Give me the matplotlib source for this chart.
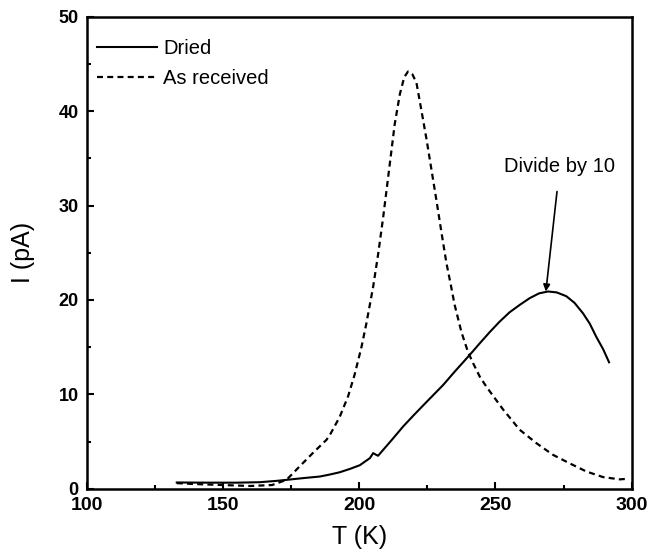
import numpy as np
import matplotlib
matplotlib.use("Agg")
import matplotlib.pyplot as plt
from matplotlib.ticker import MultipleLocator

plt.rcParams['font.family'] = ['Liberation Sans', 'DejaVu Sans']

# As received (dashed)
t_recv = [133, 140, 150, 160, 168, 173.3, 178.2, 183, 185.5, 188, 189.2, 192.8, 195.9,
          198.3, 200.8, 202.6, 205.1, 206.9, 208.7, 210, 211.2, 213, 214.9, 216.5,
          217.9, 219.5, 221, 222.8, 224.7, 226.5, 228.3, 230.2, 232, 233.6, 235,
          237.5, 239.9, 241.8, 244.2, 246.7, 252.8, 258.9, 265, 271.1, 277.2, 283.4,
          289.5, 295.6, 298]
i_recv = [0.6, 0.5, 0.4, 0.3, 0.4, 0.95, 2.4, 3.8, 4.5, 5.2, 5.7, 7.6, 9.8,
          12.1, 15.0, 17.5, 21.4, 24.8, 28.6, 31.6, 34.4, 38.6, 41.8, 43.6,
          44.2, 43.9, 43.0, 40.1, 37.0, 33.8, 30.6, 27.1, 23.9, 21.6, 19.5,
          16.6, 14.5, 13.3, 11.9, 10.8, 8.4, 6.25, 4.84, 3.6, 2.7, 1.83,
          1.24, 1.0, 1.05]

# Dried (solid, divided by 10)
t_dry = [133, 145, 155, 163.5, 170, 175, 180, 185.5, 189, 192.8, 196.5, 200.2, 203.9,
         205.1, 206.2, 206.9, 208.7, 212, 216.1, 220, 224.7, 230.8, 235, 240.6, 244.2,
         247.9, 251.5, 255.2, 259, 262.6, 266, 269.3, 272.5, 276, 279, 282.1, 284.6,
         287, 289.5, 291.7]
i_dry = [0.67, 0.65, 0.65, 0.7, 0.85, 1.0, 1.15, 1.3, 1.5, 1.75, 2.1, 2.5, 3.25,
         3.78, 3.6, 3.5, 4.1, 5.2, 6.6, 7.8, 9.2, 11.0, 12.4, 14.2, 15.4,
         16.6, 17.7, 18.7, 19.5, 20.2, 20.7, 20.9, 20.8, 20.4, 19.7, 18.6, 17.5,
         16.1, 14.8, 13.4]

fig = plt.figure(figsize=(6.58, 5.58), dpi=100)
ax = fig.add_axes([0.132, 0.124, 0.828, 0.846])

ax.plot(t_dry, i_dry, color='black', lw=1.5, label='Dried')
ax.plot(t_recv, i_recv, color='black', lw=1.6, ls=(0, (2.7, 1.9)), label='As received')

ax.set_xlim(100, 300)
ax.set_ylim(0, 50)
ax.xaxis.set_major_locator(MultipleLocator(50))
ax.xaxis.set_minor_locator(MultipleLocator(25))
ax.yaxis.set_major_locator(MultipleLocator(10))
ax.yaxis.set_minor_locator(MultipleLocator(5))
ax.tick_params(which='both', direction='in', top=False, right=False, width=1.5)
ax.tick_params(which='major', length=5)
ax.tick_params(which='minor', length=3)
ax.tick_params(axis='x', labelsize=14, pad=6)
ax.tick_params(axis='y', labelsize=13, pad=6)
for lab in ax.get_xticklabels() + ax.get_yticklabels():
    lab.set_fontweight('bold')
for s in ax.spines.values():
    s.set_linewidth(1.8)

ax.set_xlabel('T (K)', fontsize=18, labelpad=8)
ax.set_ylabel('I (pA)', fontsize=18, labelpad=17)

ax.legend(loc='upper left', bbox_to_anchor=(0.018, 0.952), frameon=False,
          fontsize=14.5, handlelength=3.0, handletextpad=0.3, borderaxespad=0,
          borderpad=0, labelspacing=0.55)

ax.annotate('Divide by 10', xy=(268.5, 20.9), xytext=(273.6, 34.1),
            ha='center', va='center', fontsize=14.5,
            arrowprops=dict(arrowstyle='-|>', color='black', lw=1.2,
                            shrinkA=9, shrinkB=0, mutation_scale=10))

fig.savefig('out.png', dpi=100)
